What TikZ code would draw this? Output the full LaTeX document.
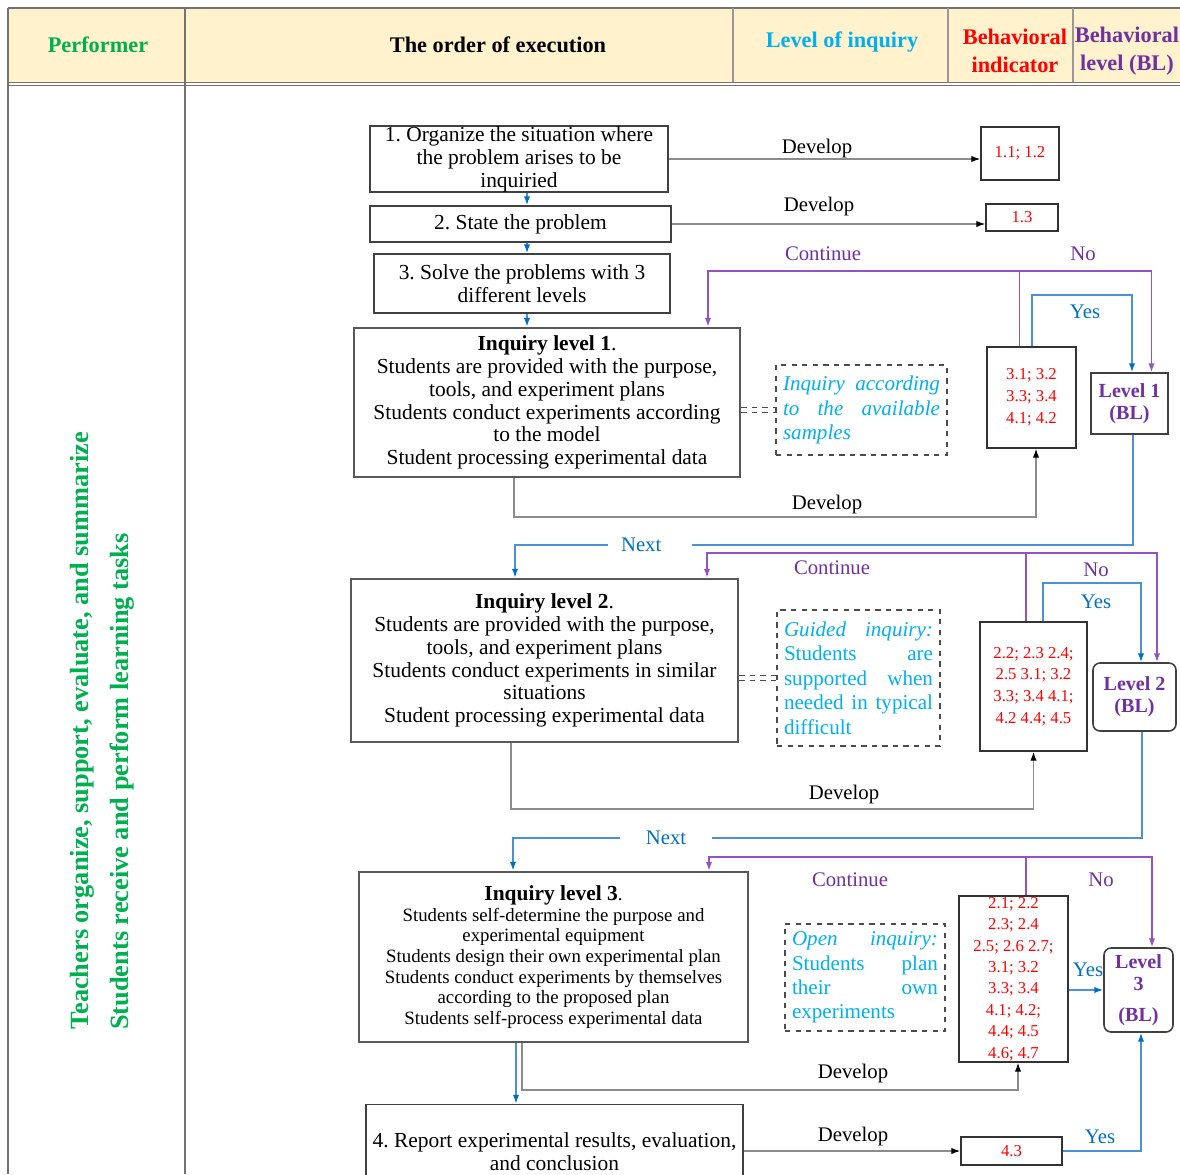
\documentclass[tikz,border=0pt]{standalone}
\usepackage{fontspec}
\setmainfont{Liberation Serif}
\usepackage{xcolor}
\usepackage{tikz}
\usetikzlibrary{shapes,arrows.meta,positioning,calc}
\definecolor{headyellow}{RGB}{255, 242, 204}
\definecolor{perfgreen}{RGB}{0, 176, 80}
\definecolor{inqcyan}{RGB}{0, 176, 240}
\definecolor{indred}{RGB}{255, 0, 0}
\definecolor{blpurple}{RGB}{112, 48, 160}
\definecolor{contpurple}{RGB}{146, 84, 196}
\definecolor{nextblue}{RGB}{0, 112, 192}
\definecolor{yesblue}{RGB}{74, 145, 214}
\newcommand{\boxfont}{\fontsize{12.2}{13}\selectfont}
\newcommand{\lowboxfont}{\fontsize{10.7}{11.7}\selectfont}
\newcommand{\modefont}{\fontsize{12}{13.9}\selectfont\hyphenpenalty=10000\exhyphenpenalty=10000}
\newcommand{\numfont}{\fontsize{9.5}{12.4}\selectfont}
\newcommand{\headfont}{\fontsize{12.7}{16}\selectfont\bfseries}
\newcommand{\labfont}{\fontsize{11.8}{13}\selectfont}
\newcommand{\blfont}{\fontsize{11.4}{12.6}\selectfont\bfseries}
\newcommand{\perffont}{\fontsize{15}{22.7}\selectfont\bfseries}
\frenchspacing

\begin{document}
\begin{tikzpicture}[x=0.02cm, y=-0.02cm,
    arrowtip/.style={-{Latex[length=5pt, width=3.6pt]}},
    stepbox/.style={draw=black!75, line width=0.9pt, align=center, inner sep=0pt, font=\boxfont},
    levelbox/.style={draw=black!65, line width=1.5pt, align=center, inner sep=0pt},
    modebox/.style={draw=black!70, dashed, line width=0.7pt, text=inqcyan, align=justify, inner xsep=4pt, font=\modefont},
    indbox/.style={draw=black!80, line width=1pt, text=indred, align=center, inner sep=0pt, font=\numfont},
    blbox/.style={draw=black!75, line width=0.9pt, text=blpurple, align=center, inner sep=0pt, font=\blfont},
    devline/.style={draw=black!45, line width=0.6pt, -{Latex[length=5pt, width=3.6pt, black]}},
    contline/.style={draw=contpurple, line width=0.9pt, arrowtip},
    yesline/.style={draw=yesblue, line width=0.9pt, -{Latex[length=5pt, width=3.6pt, nextblue]}},
    dashlink/.style={draw=black!70, dashed, double, double distance=2.4pt, line width=0.6pt},
    devlabel/.style={font=\labfont},
    contlabel/.style={font=\labfont, text=blpurple},
    yeslabel/.style={font=\labfont, text=nextblue},
    headtext/.style={font=\headfont, align=center}
]
\clip (0,0) rectangle (1180,1174);
% Table frame and header row
\fill[headyellow] (8,8) rectangle (1180,84);
\draw[black!55, line width=0.8pt] (8,8) -- (1180,8);
\draw[black!55, double, double distance=1pt] (8,84) -- (1180,84);
\foreach \xx in {8,185} {
    \draw[black!55, line width=0.8pt] (\xx,8) -- (\xx,1174);
}
\foreach \xx in {733,948,1073} {
    \draw[black!40, line width=0.6pt] (\xx,8) -- (\xx,82);
}
\node[headtext, text=perfgreen] (hperf) at (98,45) {Performer};
\node[headtext] (horder) at (498,45) {The order of execution};
\node[headtext, text=inqcyan] (hinq) at (842,42) {Level of inquiry};
\node[headtext, text=indred] (hind) at (1015,51) {Behavioral\\indicator};
\node[headtext, text=blpurple] (hbl) at (1127,51) {Behavioral\\level (BL)};
% Performer column
\node[font=\perffont, text=perfgreen, rotate=90, align=left, anchor=west] (perf) at (102,1036)
    {Teachers organize, support, evaluate, and summarize\\Students receive and perform learning tasks};

% Steps 1-3
\node[stepbox, minimum width=5.96cm, minimum height=1.32cm] (org) at (519,159)
    {1. Organize the situation where\\the problem arises to be\\inquiried};
\node[stepbox, minimum width=6.02cm, minimum height=0.72cm] (state) at (520.5,224) {2. State the problem};
\node[stepbox, minimum width=5.92cm, minimum height=1.18cm] (solve) at (522,283.5)
    {3. Solve the problems with 3\\different levels};
\node[indbox, minimum width=1.56cm, minimum height=1.06cm] (ind11) at (1020,153.5) {1.1; 1.2};
\node[indbox, minimum width=1.44cm, minimum height=0.54cm] (ind13) at (1022,217.5) {1.3};

% Level 1
\node[levelbox, font=\boxfont, minimum width=7.72cm, minimum height=2.98cm] (inq1) at (547,402.5)
    {\textbf{Inquiry level 1}.\\Students are provided with the purpose,\\tools, and experiment plans\\Students conduct experiments according\\to the model\\Student processing experimental data};
\node[modebox, text width=3.14cm, minimum height=1.8cm] (mode1) at (861.5,410)
    {\itshape Inquiry according to the available samples};
\node[indbox, minimum width=1.78cm, minimum height=2.02cm] (ind1) at (1031.5,397.5) {3.1; 3.2\\3.3; 3.4\\4.1; 4.2};
\node[blbox, minimum width=1.54cm, minimum height=1.22cm] (bl1) at (1129.5,403.5) {Level 1\\(BL)};

% Level 2
\node[levelbox, font=\boxfont, minimum width=7.74cm, minimum height=3.26cm] (inq2) at (544.5,660.5)
    {\textbf{Inquiry level 2}.\\Students are provided with the purpose,\\tools, and experiment plans\\Students conduct experiments in similar\\situations\\Student processing experimental data};
\node[modebox, text width=2.98cm, minimum height=2.72cm] (mode2) at (858.5,678)
    {\textit{Guided inquiry:} Students are supported when needed in typical difficult};
\node[indbox, minimum width=2.14cm, minimum height=2.58cm] (ind2) at (1033.5,686.5)
    {2.2; 2.3 2.4;\\2.5 3.1; 3.2\\3.3; 3.4 4.1;\\4.2 4.4; 4.5};
\node[blbox, rounded corners=4pt, minimum width=1.66cm, minimum height=1.36cm] (bl2) at (1134.5,697) {Level 2\\(BL)};

% Level 3
\node[levelbox, font=\lowboxfont, minimum width=7.78cm, minimum height=3.4cm] (inq3) at (553.5,957)
    {\textbf{\boxfont Inquiry level 3}.\\Students self-determine the purpose and\\experimental equipment\\Students design their own experimental plan\\Students conduct experiments by themselves\\according to the proposed plan\\Students self-process experimental data};
\node[modebox, text width=2.92cm, minimum height=2.14cm] (mode3) at (865,977.5)
    {\textit{Open inquiry:} Students plan their own experiments};
\node[indbox, font=\fontsize{9.5}{12.2}\selectfont, minimum width=2.18cm, minimum height=3.32cm] (ind3) at (1013.5,979)
    {2.1; 2.2\\2.3; 2.4\\2.5; 2.6 2.7;\\3.1; 3.2\\3.3; 3.4\\4.1; 4.2;\\4.4; 4.5\\4.6; 4.7};
\node[blbox, rounded corners=4pt, minimum width=1.38cm, minimum height=1.68cm] (bl3) at (1138.5,990) {Level\\3\\[5pt](BL)};

% Step 4
\node[stepbox, minimum width=7.54cm, minimum height=1.9cm] (report) at (554.5,1152)
    {4. Report experimental results, evaluation,\\and conclusion};
\node[indbox, minimum width=2.02cm, minimum height=0.56cm] (ind43) at (1011.5,1151) {4.3};

% Bend points
\coordinate (spine) at (527,0);
\coordinate (cont1) at (708,271);
\coordinate (yes1) at (1132,295);
\coordinate (dev1) at (514,517);
\coordinate (next1) at (515,545);
\coordinate (cont2) at (707,553);
\coordinate (yes2) at (1141,583);
\coordinate (dev2) at (511,809);
\coordinate (next2) at (513,838);
\coordinate (cont3) at (709,857);
\coordinate (dev3) at (522,1090);
\coordinate (spine4) at (516,0);

% Main flow
\draw[yesline] (org.south -| spine) -- (state.north -| spine);
\draw[yesline] (state.south -| spine) -- (solve.north -| spine);
\draw[yesline] (solve.south -| spine) -- (inq1.north -| spine);
\draw[yesline] (inq3.south -| spine4) -- (report.north -| spine4);

% Develop connections
\draw[devline] (org.east) -- (org.east -| ind11.west);
\draw[devline] (state.east) -- (state.east -| ind13.west);
\draw[devline] (inq1.south -| dev1) -- (dev1) -| ($(ind1.south)+(4.5,0)$);
\draw[devline] (inq2.south -| dev2) -- (dev2) -| (ind2.south);
\draw[devline] (inq3.south -| dev3) -- (dev3) -| ($(ind3.south)+(4.5,0)$);
\draw[devline] (ind43.west -| report.east) -- (ind43.west);
\node[devlabel] (devlab1) at (817,149) {Develop};
\node[devlabel] (devlab2) at (819,207) {Develop};
\node[devlabel] (devlab3) at (827,505) {Develop};
\node[devlabel] (devlab4) at (844,794) {Develop};
\node[devlabel] (devlab5) at (853,1073) {Develop};
\node[devlabel] (devlab6) at (853,1136) {Develop};

% Level of inquiry links
\draw[dashlink] (mode1.west -| inq1.east) -- (mode1.west);
\draw[dashlink] (mode2.west -| inq2.east) -- (mode2.west);
\draw[dashlink] ($(mode3.west)+(0,-10)$ -| inq3.east) -- ($(mode3.west)+(0,-10)$);

% Continue / No loops
\draw[contline] ($(ind1.north)+(-12,0)$) |- (cont1) -- (cont1 |- inq1.north);
\draw[contline] (cont1) -| ($(bl1.north)+(22,0)$);
\draw[contline] ($(ind2.north)+(-7.5,0)$) |- (cont2) -- (cont2 |- inq2.north);
\draw[contline] (cont2) -| ($(bl2.north)+(22.5,0)$);
\draw[contline] ($(ind3.north)+(12.5,0)$) |- (cont3) -- (cont3 |- inq3.north);
\draw[contline] (cont3) -| ($(bl3.north)+(13.5,0)$);
\node[contlabel] (contlab1) at (823,254) {Continue};
\node[contlabel] (nolab1) at (1083,254) {No};
\node[contlabel] (contlab2) at (832,568) {Continue};
\node[contlabel] (nolab2) at (1096,570) {No};
\node[contlabel] (contlab3) at (850,880) {Continue};
\node[contlabel] (nolab3) at (1101,880) {No};

% Yes loops
\draw[yesline] ($(ind1.north)+(0.5,0)$) |- (yes1) -- (yes1 |- bl1.north);
\draw[yesline] ($(ind2.north)+(9.5,0)$) |- (yes2) -- (yes2 |- bl2.north);
\draw[yesline] (ind3.east |- bl3.west) -- (bl3.west);
\draw[yesline] (ind43.east) -| ($(bl3.south)+(2.5,0)$);
\node[yeslabel] (yeslab1) at (1085,312) {Yes};
\node[yeslabel] (yeslab2) at (1096,602) {Yes};
\node[yeslabel] (yeslab3) at (1088,970) {Yes};
\node[yeslabel] (yeslab4) at (1100,1137) {Yes};

% Next level
\draw[yesline] ($(bl1.south)+(3.5,0)$) |- (next1) -- (next1 |- inq2.north);
\draw[yesline] ($(bl2.south)+(7.5,0)$) |- (next2) -- (next2 |- inq3.north);
\node[yeslabel, fill=white, minimum width=1.7cm] (nextlab1) at (650,545) {\hspace*{-10pt}Next};
\node[yeslabel, fill=white, minimum width=1.86cm] (nextlab2) at (666,838) {\raisebox{-4pt}{Next}};
\end{tikzpicture}
\end{document}
